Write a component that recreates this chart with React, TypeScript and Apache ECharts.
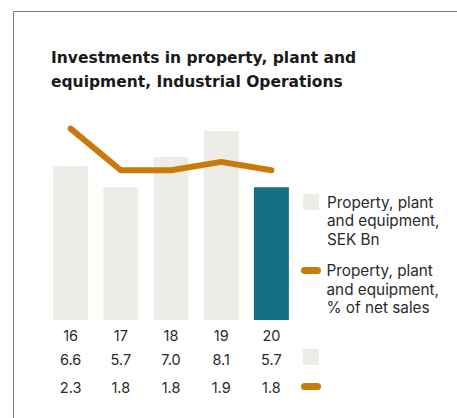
import React, { useEffect, useRef } from "react";
import * as echarts from "echarts";

const years = ["16", "17", "18", "19", "20"];
const ppeSekBn = [6.6, 5.7, 7.0, 8.1, 5.7];
const ppePctNetSales = [2.3, 1.8, 1.8, 1.9, 1.8];

const titleText = "Investments in property, plant and\nequipment, Industrial Operations";
const barName = "Property, plant\nand equipment,\nSEK Bn";
const lineName = "Property, plant\nand equipment,\n% of net sales";

const FONT = "Inter, 'Noto Sans', sans-serif";
const BAR_COLOR = "#EDECE7";
const HIGHLIGHT = "#136F84";
const LINE_COLOR = "#C97A0A";
const TEXT = "#2a2a2a";
const PILL = "path://M3.5,0 H16.5 A3.5,3.5 0 0 1 16.5,7 H3.5 A3.5,3.5 0 0 1 3.5,0 Z";

export default function App() {
  const ref = useRef<HTMLDivElement>(null);
  useEffect(() => {
    if (!ref.current) return;
    const chart = echarts.init(ref.current, null, { renderer: "svg" });
    const legendText = {
      fontFamily: FONT,
      fontSize: 15.3,
      color: TEXT,
      lineHeight: 18.5,
      padding: [0, 0, 0, 3],
    };
    const tableLabel = {
      fontFamily: FONT,
      fontSize: 14.5,
      color: TEXT,
    };
    // prepend two empty lines so the first line of the label is centred on the icon
    const topAligned = (name: string) => "\n\n" + name;
    chart.setOption({
      animation: false,
      title: {
        text: titleText,
        left: 51,
        top: 46,
        padding: 0,
        textStyle: {
          fontFamily: "'DejaVu Sans', sans-serif",
          fontSize: 15.5,
          fontWeight: "bold",
          color: "#1a1a1a",
          lineHeight: 24,
        },
      },
      grid: { left: 45.5, right: 160.5, top: 87, bottom: 98, containLabel: false },
      xAxis: [
        {
          type: "category",
          data: years,
          axisLine: { show: false },
          axisTick: { show: false },
          axisLabel: { ...tableLabel, margin: 8 },
        },
        {
          type: "category",
          data: years,
          position: "bottom",
          offset: 24,
          axisLine: { show: false },
          axisTick: { show: false },
          axisLabel: {
            ...tableLabel,
            margin: 8,
            formatter: (_v: string, i: number) => ppeSekBn[i].toFixed(1),
          },
        },
        {
          type: "category",
          data: years,
          position: "bottom",
          offset: 52,
          axisLine: { show: false },
          axisTick: { show: false },
          axisLabel: {
            ...tableLabel,
            margin: 8,
            formatter: (_v: string, i: number) => ppePctNetSales[i].toFixed(1),
          },
        },
      ],
      yAxis: [
        { type: "value", min: 0, max: 10, show: false, splitLine: { show: false } },
        { type: "value", min: 0, max: 2.8, show: false, splitLine: { show: false } },
      ],
      legend: [
        {
          data: [{ name: barName, icon: "rect" }],
          left: 303,
          top: 155.75,
          padding: 0,
          itemWidth: 16,
          itemHeight: 16,
          selectedMode: false,
          formatter: topAligned,
          textStyle: legendText,
        },
        {
          data: [{ name: lineName, icon: PILL }],
          left: 301,
          top: 224.25,
          padding: 0,
          itemWidth: 21,
          itemHeight: 7,
          selectedMode: false,
          formatter: topAligned,
          textStyle: { ...legendText, padding: 0 },
        },
        {
          data: [{ name: barName, icon: "rect" }],
          left: 303,
          top: 349,
          padding: 0,
          itemWidth: 16,
          itemHeight: 16,
          selectedMode: false,
          formatter: () => "",
        },
        {
          data: [{ name: lineName, icon: PILL }],
          left: 301,
          top: 383,
          padding: 0,
          itemWidth: 20,
          itemHeight: 7,
          selectedMode: false,
          formatter: () => "",
        },
      ],
      graphic: [
        {
          type: "line",
          shape: { x1: 13.5, y1: 11.5, x2: 457, y2: 11.5 },
          style: { stroke: "#7a7a7a", lineWidth: 1 },
          silent: true,
        },
        {
          type: "line",
          shape: { x1: 13.5, y1: 11.5, x2: 13.5, y2: 418 },
          style: { stroke: "#7a7a7a", lineWidth: 1 },
          silent: true,
        },
      ],
      series: [
        {
          name: barName,
          type: "bar",
          xAxisIndex: 0,
          yAxisIndex: 0,
          barWidth: 35,
          itemStyle: { color: BAR_COLOR },
          data: ppeSekBn.map((v, i) =>
            i === ppeSekBn.length - 1 ? { value: v, itemStyle: { color: HIGHLIGHT } } : v
          ),
          emphasis: { disabled: true },
        },
        {
          name: lineName,
          type: "line",
          xAxisIndex: 0,
          yAxisIndex: 1,
          symbol: "none",
          color: LINE_COLOR,
          lineStyle: { width: 6, color: LINE_COLOR, cap: "round", join: "round" },
          itemStyle: { color: LINE_COLOR },
          data: ppePctNetSales,
          emphasis: { disabled: true },
        },
      ],
    });
    return () => chart.dispose();
  }, []);
  return (
    <div
      ref={ref}
      style={{ position: "absolute", left: 0, top: 0, width: 457, height: 418, background: "#fff" }}
    />
  );
}
